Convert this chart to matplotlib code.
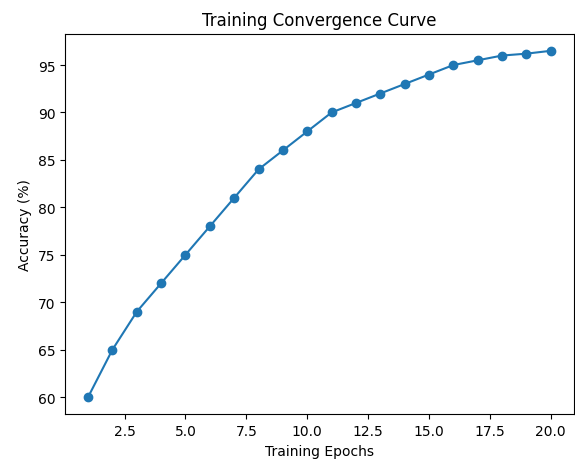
import matplotlib
matplotlib.use('Agg')
import matplotlib.pyplot as plt

# Données de convergence
epochs = list(range(1, 21))
accuracy = [60, 65, 69, 72, 75, 78, 81, 84, 86, 88,
            90, 91, 92, 93, 94, 95, 95.5, 96, 96.2, 96.5]

fig = plt.figure(figsize=(5.75, 4.6), dpi=100)
ax = fig.add_axes([0.113, 0.097, 0.885, 0.828])
ax.plot(epochs, accuracy, marker='o', color='#1f77b4')

ax.set_xlabel('Training Epochs')
ax.set_ylabel('Accuracy (%)')
ax.set_title('Training Convergence Curve')

fig.savefig('out.png', dpi=100)
